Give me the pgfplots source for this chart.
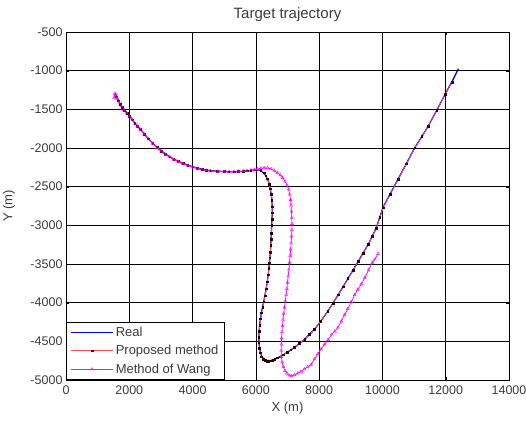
\documentclass[border=0pt]{standalone}
\usepackage{pgfplots}
\pgfplotsset{compat=1.18}
\usepackage{fontspec}
\setmainfont{Liberation Sans}
\definecolor{mag}{RGB}{255,0,255}
\definecolor{myblue}{RGB}{0,0,255}
\definecolor{myred}{RGB}{255,80,80}
\definecolor{txt}{RGB}{60,60,60}
\begin{document}
\begin{tikzpicture}
\begin{axis}[
  at={(0,0)}, anchor=south west,
  scale only axis, width=443pt, height=348pt,
  xmin=0, xmax=14000, ymin=-5000, ymax=-500,
  xtick={0,2000,...,14000}, ytick={-5000,-4500,...,-500},
  scaled ticks=false,
  /pgf/number format/.cd, 1000 sep={}, assume math mode=true,
  /pgfplots/.cd,
  tick align=inside, tick pos=both,
  major tick length=3pt,
  grid=major, major grid style={black, line width=0.6pt},
  axis line style={black, line width=0.7pt},
  tick style={black},
  ticklabel style={font=\fontsize{12.5}{13}\selectfont, text=txt},
  xticklabel style={yshift=-2pt},
  xlabel={X (m)}, ylabel={Y (m)},
  every axis x label/.style={at={(axis description cs:0.5,0)}, yshift=-28pt, anchor=center},
  every axis y label/.style={at={(axis description cs:0,0.5)}, xshift=-57pt, rotate=90, anchor=center},
  label style={font=\fontsize{13}{14}\selectfont, text=txt},
  title={Target trajectory},
  every axis title/.style={at={(axis description cs:0.5,1)}, yshift=17pt, anchor=center},
  title style={font=\fontsize{15}{16}\selectfont, text=txt},
  legend cell align=left,
  legend style={font=\fontsize{13}{14}\selectfont, text=txt, draw=black, line width=0.7pt, inner xsep=4pt, inner ysep=3pt, row sep=3.5pt, at={(0,0)}, anchor=south west},
  legend image code/.code={\draw[mark repeat=2,mark phase=2,#1] plot coordinates {(0cm,0cm)(0.74cm,0cm)(1.48cm,0cm)};},
]
\addplot[myblue, line width=1.3pt] coordinates {
(1556,-1290)(1640,-1370)(1714,-1436)(1850,-1510)(2011,-1586)(2180,-1680)(2349,-1757)(2600,-1880)(2878,-1994)(3150,-2080)(3407,-2144)(3700,-2200)(4010,-2243)(4300,-2275)(4571,-2294)(5000,-2305)(5312,-2307)(5600,-2302)(5841,-2294)(6000,-2285)(6158,-2290)(6317,-2358)(6400,-2430)(6455,-2530)(6500,-2640)(6515,-2745)(6515,-2870)(6500,-3002)(6480,-3180)(6460,-3345)(6430,-3480)(6400,-3603)(6350,-3760)(6290,-3903)(6230,-4020)(6180,-4118)(6130,-4250)(6100,-4376)(6095,-4500)(6120,-4600)(6180,-4690)(6264,-4735)(6370,-4750)(6476,-4748)(6600,-4730)(6741,-4705)(7000,-4640)(7217,-4580)(7550,-4470)(7852,-4345)(8050,-4240)(8275,-4110)(8600,-3900)(8910,-3689)(9230,-3470)(9545,-3250)(9800,-3040)(10021,-2766)(10250,-2590)(10497,-2401)(10760,-2200)(11026,-1994)(11250,-1850)(11450,-1715)(11720,-1510)(11979,-1307)(12200,-1140)(12402,-976)
};
\addlegendentry{Real}
\addplot[myred, line width=0.7pt, mark=square*, mark size=0.85pt, mark options={draw=black!80!red, fill=black!80!red}] coordinates {
(1600,-1340)(1660,-1390)(1714,-1436)(1780,-1478)(1850,-1515)(1930,-1552)(2011,-1590)(2100,-1637)(2180,-1682)(2260,-1720)(2349,-1760)(2470,-1820)(2600,-1882)(2740,-1940)(2878,-1996)(3010,-2040)(3150,-2082)(3280,-2115)(3407,-2146)(3550,-2175)(3700,-2202)(3850,-2225)(4010,-2245)(4150,-2262)(4300,-2276)(4440,-2288)(4571,-2295)(4790,-2302)(5000,-2305)(5150,-2307)(5312,-2307)(5450,-2304)(5600,-2300)(5720,-2295)(5841,-2290)(6000,-2282)(6158,-2288)(6260,-2320)(6317,-2360)(6370,-2400)(6420,-2470)(6455,-2530)(6490,-2600)(6505,-2680)(6515,-2760)(6515,-2840)(6512,-2920)(6505,-3002)(6490,-3100)(6480,-3180)(6470,-3260)(6460,-3345)(6445,-3420)(6430,-3490)(6410,-3560)(6390,-3640)(6360,-3730)(6330,-3820)(6290,-3910)(6250,-3990)(6220,-4060)(6180,-4130)(6150,-4210)(6125,-4290)(6105,-4370)(6095,-4450)(6098,-4520)(6110,-4590)(6140,-4650)(6180,-4700)(6230,-4730)(6290,-4748)(6350,-4755)(6410,-4755)(6476,-4752)(6540,-4742)(6600,-4730)(6680,-4715)(6760,-4700)(6860,-4675)(7000,-4640)(7110,-4610)(7217,-4580)(7380,-4525)(7550,-4470)(7700,-4410)(7852,-4345)(8050,-4240)(8275,-4110)(8440,-4005)(8600,-3900)(8760,-3795)(8910,-3689)(9070,-3580)(9230,-3470)(9390,-3360)(9545,-3250)(9680,-3140)(9800,-3040)(9920,-2900)(10021,-2775)(10250,-2595)(10497,-2405)(10760,-2205)(11026,-1998)(11250,-1853)(11450,-1718)(11720,-1512)(11979,-1310)(12200,-1150)
};
\addlegendentry{Proposed method}
\addplot[mag, line width=0.7pt, mark=triangle, mark size=1.7pt, mark options={mag, line width=0.4pt}] coordinates {
(1520,-1350)(1540,-1300)(1580,-1320)(1620,-1360)(1680,-1410)(1750,-1460)(1830,-1505)(1920,-1550)(2011,-1592)(2100,-1640)(2180,-1685)(2260,-1722)(2349,-1762)(2470,-1822)(2600,-1885)(2740,-1942)(2878,-1998)(3010,-2042)(3150,-2085)(3280,-2118)(3407,-2150)(3550,-2178)(3700,-2205)(3850,-2228)(4010,-2250)(4150,-2266)(4300,-2280)(4440,-2290)(4571,-2298)(4800,-2305)(5000,-2306)(5150,-2306)(5312,-2306)(5450,-2302)(5600,-2298)(5720,-2292)(5841,-2286)(5950,-2278)(6050,-2272)(6158,-2262)(6260,-2256)(6370,-2258)(6480,-2270)(6582,-2292)(6680,-2320)(6770,-2350)(6846,-2385)(6920,-2430)(6980,-2480)(7037,-2535)(7070,-2600)(7095,-2670)(7111,-2740)(7125,-2820)(7135,-2900)(7140,-2980)(7138,-3060)(7130,-3140)(7115,-3230)(7100,-3310)(7085,-3390)(7065,-3480)(7045,-3570)(7020,-3660)(7000,-3740)(6980,-3820)(6955,-3900)(6930,-3980)(6905,-4060)(6880,-4140)(6860,-4220)(6840,-4300)(6825,-4380)(6812,-4460)(6805,-4540)(6800,-4620)(6805,-4700)(6830,-4770)(6870,-4830)(6920,-4880)(6980,-4915)(7050,-4940)(7130,-4945)(7220,-4935)(7320,-4915)(7429,-4890)(7530,-4860)(7640,-4830)(7746,-4800)(7850,-4730)(7960,-4660)(8060,-4600)(8169,-4540)(8280,-4480)(8400,-4410)(8500,-4370)(8593,-4320)(8700,-4240)(8800,-4160)(8900,-4080)(9016,-3990)(9120,-3900)(9220,-3830)(9330,-3760)(9439,-3680)(9560,-3580)(9680,-3480)(9760,-3440)(9862,-3365)
};
\addlegendentry{Method of Wang}
\end{axis}
\pgfresetboundingbox
\path (-66pt,-40pt) rectangle (460pt,380pt);
\end{tikzpicture}
\end{document}
